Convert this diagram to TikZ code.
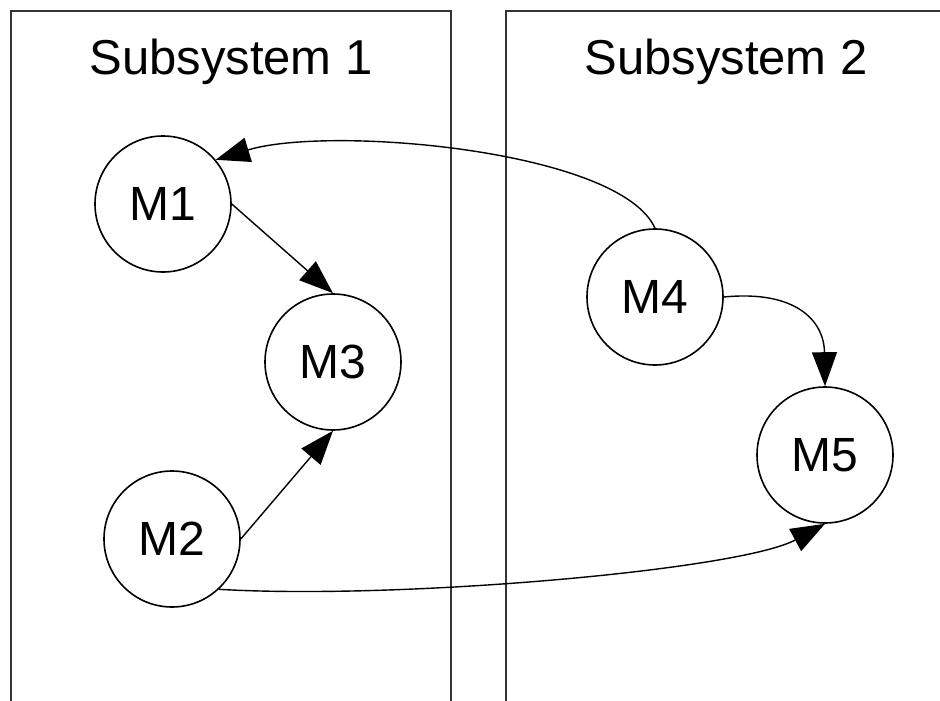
\documentclass[tikz,border=0pt]{standalone}
\usepackage{fontspec}
\setmainfont{Liberation Sans}
\usetikzlibrary{arrows.meta}
\begin{document}
\begin{tikzpicture}[x=1pt,y=-1pt,
  module/.style={circle,draw,line width=1.6pt,minimum size=136pt,inner sep=0pt,
    font=\fontsize{48}{56}\selectfont},
  title/.style={font=\fontsize{49}{58}\selectfont,inner sep=0pt},
  frame/.style={draw=black!80,line width=2.2pt},
  link/.style={line width=1.4pt,-{Triangle[length=34pt,width=25pt]}}]
\useasboundingbox (0,0) rectangle (940,701);
\begin{scope}
\clip (0,0) rectangle (940,701);
% subsystem frames (open at the bottom and right)
\draw[frame] (11,720) -- (11,11) -- (451,11) -- (451,720);
\draw[frame] (506,720) -- (506,11) -- (960,11);
\end{scope}
\node[title] (t1) at (231,62) {Subsystem 1};
\node[title] (t2) at (726,62) {Subsystem 2};
% modules
\node[module] (m1) at (163,204) {M1};
\node[module] (m3) at (333,362) {M3};
\node[module] (m2) at (172,539) {M2};
\node[module] (m4) at (655,297) {M4};
\node[module] (m5) at (825,455) {M5};
% connections
\draw[link] (m1.east) -- (m3.north);
\draw[link] (m2.east) -- (m3.south);
\draw[link] (m4.north) .. controls (620,150) and (330,125) .. (m1.40);
\draw[link] (m4.east) .. controls (795,290) and (824,320) .. (m5.north);
\draw[link] (m2.-47) .. controls (400,600) and (740,570) .. (m5.south);
\end{tikzpicture}
\end{document}
